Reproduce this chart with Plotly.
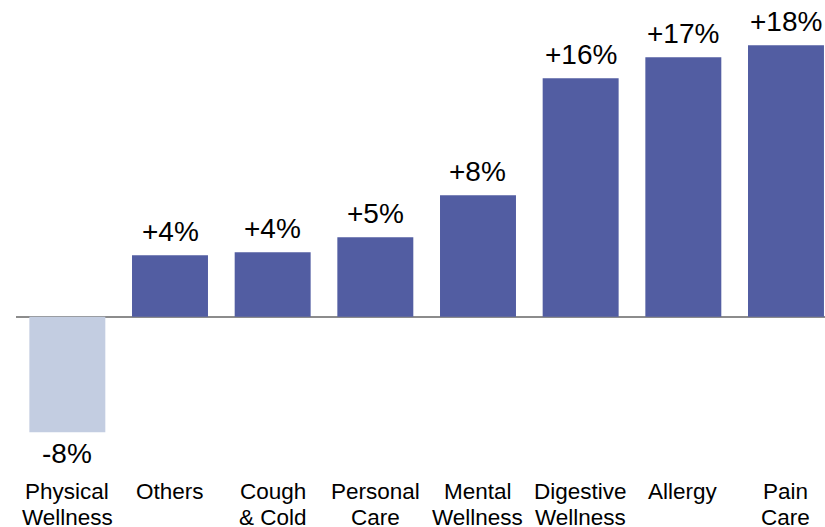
import plotly.graph_objects as go

# Year-over-year change by category (%)
categories = ["Physical<br>Wellness", "Others", "Cough<br>& Cold", "Personal<br>Care",
              "Mental<br>Wellness", "Digestive<br>Wellness", "Allergy", "Pain<br>Care"]
change_pct = [-7.7, 4.1, 4.3, 5.3, 8.1, 15.9, 17.3, 18.1]

DARK = "#525DA2"
LIGHT = "#C3CDE1"
colors = [LIGHT if v < 0 else DARK for v in change_pct]

FONT = "Liberation Sans, Arial, sans-serif"
LABEL_SIZE = 22.5
LINE_STEP = 26  # px between the two lines of a category label

fig = go.Figure(
    go.Bar(
        x=categories,
        y=change_pct,
        marker=dict(color=colors, line=dict(width=0)),
        hoverinfo="skip",
    )
)

# value labels just beyond the end of each bar
for cat, v in zip(categories, change_pct):
    fig.add_annotation(
        x=cat,
        y=v,
        text=f"{v:+.0f}%",
        showarrow=False,
        yanchor="bottom" if v >= 0 else "top",
        yshift=6 if v >= 0 else -4,
        font=dict(family=FONT, size=28, color="#000000"),
    )

# category names under the plot, one annotation per line for tight spacing
for cat in categories:
    for i, line in enumerate(cat.split("<br>")):
        fig.add_annotation(
            x=cat,
            y=0,
            yref="paper",
            text=line,
            showarrow=False,
            xanchor="center",
            yanchor="top",
            yshift=-7 - i * LINE_STEP,
            font=dict(family=FONT, size=LABEL_SIZE, color="#000000"),
        )

fig.update_layout(
    width=825,
    height=527,
    margin=dict(l=16, r=0, t=0, b=57),
    paper_bgcolor="white",
    plot_bgcolor="white",
    bargap=0.26,
    showlegend=False,
    font=dict(family=FONT, color="#000000"),
)

fig.update_xaxes(
    range=[-0.5, 7.38],
    automargin=False,
    showgrid=False,
    showline=False,
    showticklabels=False,
    ticks="",
)

fig.update_yaxes(
    range=[-10.22, 21.11],
    automargin=False,
    showgrid=False,
    showticklabels=False,
    zeroline=True,
    zerolinecolor="#8C8C8C",
    zerolinewidth=2,
)

fig.write_html("out.html")
